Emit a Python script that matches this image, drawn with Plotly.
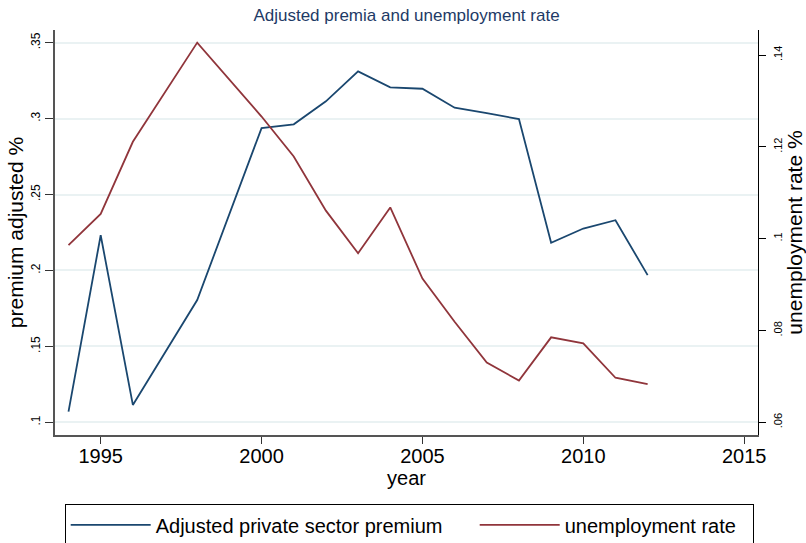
import plotly.graph_objects as go

years = [1994, 1995, 1996, 1998, 2000, 2001, 2002, 2003, 2004, 2005, 2006, 2007, 2008, 2009, 2010, 2011, 2012]
premium = [0.107, 0.2232, 0.1114, 0.1805, 0.2938, 0.2963, 0.3114, 0.3311, 0.3206, 0.3197, 0.3072, 0.3037, 0.2997, 0.2182, 0.2276, 0.2331, 0.1969]
unemployment = [0.0986, 0.1054, 0.1211, 0.1427, 0.1266, 0.1179, 0.1061, 0.0968, 0.1068, 0.0913, 0.0819, 0.0730, 0.0691, 0.0785, 0.0772, 0.0697, 0.0683]

x_ticks = [1995, 2000, 2005, 2010, 2015]
left_ticks = [0.1, 0.15, 0.2, 0.25, 0.3, 0.35]
left_labels = [".1", ".15", ".2", ".25", ".3", ".35"]
right_ticks = [0.06, 0.08, 0.1, 0.12, 0.14]
right_labels = [".06", ".08", ".1", ".12", ".14"]

FONT = "Liberation Sans, Arial, sans-serif"

fig = go.Figure()
fig.add_trace(go.Scatter(x=years, y=premium, mode="lines", name="Adjusted private sector premium",
                         line=dict(color="#1a476f", width=1.8), yaxis="y", legendwidth=314))
fig.add_trace(go.Scatter(x=years, y=unemployment, mode="lines", name="unemployment rate",
                         line=dict(color="#90353b", width=1.8), yaxis="y2", legendwidth=183))

fig.update_layout(
    width=806, height=543,
    margin=dict(l=55, r=48, t=30, b=108, autoexpand=False),
    paper_bgcolor="white", plot_bgcolor="white",
    font=dict(family=FONT, color="black"),
    title=dict(text="Adjusted premia and unemployment rate", x=0.5, xref="paper",
               y=1 - 15 / 543, yanchor="middle",
               font=dict(size=17, color="#1e3a66", family=FONT)),
    xaxis=dict(range=[1993.58, 2015.43], tickvals=x_ticks, ticks="outside", ticklen=7,
               tickwidth=1, tickcolor="#333", showline=True, linecolor="#555", linewidth=2,
               showgrid=False, zeroline=False, tickfont=dict(size=20), ticklabelstandoff=-5,
               title=dict(text="year", font=dict(size=20), standoff=4)),
    yaxis=dict(range=[0.0916, 0.3584], tickvals=left_ticks, ticktext=left_labels,
               ticks="outside", ticklen=8, tickwidth=1, tickcolor="#333", tickangle=-90,
               showline=True, linecolor="#555", linewidth=2, showgrid=True,
               gridcolor="#eaf2f3", gridwidth=2, zeroline=False, tickfont=dict(size=12),
               title=dict(text="premium adjusted %", font=dict(size=21), standoff=0)),
    yaxis2=dict(range=[0.05723, 0.14545], tickvals=right_ticks, ticktext=right_labels,
                overlaying="y", side="right", ticks="outside", ticklen=7, tickwidth=1,
                tickcolor="black", tickangle=-90, showline=True, linecolor="black", linewidth=1,
                showgrid=False, zeroline=False, tickfont=dict(size=11), ticklabelstandoff=3,
                title=dict(text="unemployment rate %", font=dict(size=21), standoff=2)),
    showlegend=True,
    legend=dict(orientation="h", x=(64.7 - 55) / 703, xanchor="left",
                y=(435 - 504.3) / 405, yanchor="top",
                bordercolor="black", borderwidth=1, bgcolor="white",
                font=dict(size=20), itemwidth=80, entrywidthmode="pixels",
                tracegroupgap=0),
)

fig.write_html("out.html")
